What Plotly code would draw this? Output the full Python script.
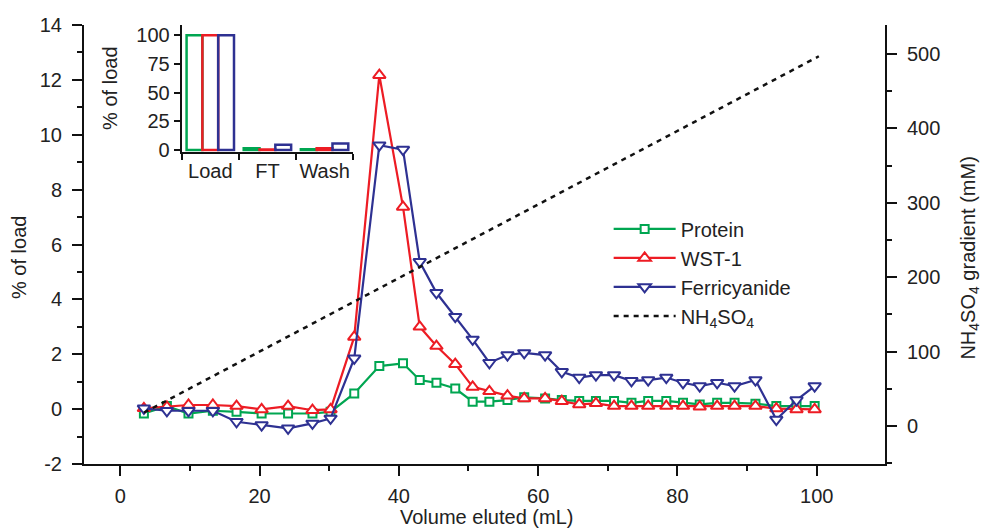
import plotly.graph_objects as go

# Fraction volumes (mL) and activity profiles (% of load)
volume = [3.4, 6.7, 9.8, 13.3, 16.7, 20.3, 24.1, 27.6, 30.2, 33.6, 37.2, 40.6,
          43.0, 45.4, 48.1, 50.6, 53.0, 55.6, 58.0, 61.0, 63.4, 65.9, 68.3, 70.9,
          73.4, 75.8, 78.4, 80.8, 83.2, 85.7, 88.2, 91.2, 94.2, 97.1, 99.7]
protein = [-0.16, 0.11, -0.16, -0.06, -0.10, -0.16, -0.16, -0.16, -0.10, 0.57, 1.57, 1.67,
           1.06, 0.96, 0.75, 0.27, 0.27, 0.33, 0.43, 0.39, 0.33, 0.30, 0.30, 0.30,
           0.23, 0.30, 0.30, 0.23, 0.17, 0.23, 0.23, 0.20, 0.11, 0.11, 0.11]
wst1 = [0.03, 0.08, 0.15, 0.15, 0.11, -0.01, 0.11, -0.04, -0.01, 2.63, 12.17, 7.37,
        3.00, 2.30, 1.64, 0.81, 0.65, 0.49, 0.39, 0.39, 0.29, 0.17, 0.21, 0.11,
        0.11, 0.11, 0.11, 0.11, 0.09, 0.11, 0.11, 0.11, 0.02, -0.01, -0.01]
ferricyanide = [0.03, -0.06, -0.06, -0.06, -0.46, -0.58, -0.70, -0.52, -0.34, 1.85, 9.62, 9.46,
                5.37, 4.24, 3.37, 2.54, 1.69, 1.97, 2.05, 1.97, 1.36, 1.15, 1.24, 1.24,
                1.03, 1.06, 1.15, 0.96, 0.84, 0.96, 0.84, 1.06, -0.38, 0.33, 0.84]

# Linear salt gradient (mM)
gradient_volume = [3.4, 100.3]
gradient_mm = [18, 497]

# Left axis tick labels (plain hyphen for the negative value)
left_ticks = [-2, 0, 2, 4, 6, 8, 10, 12, 14]
left_ticktext = ["-2", "0", "2", "4", "6", "8", "10", "12", "14"]

# Inset: load, flow-through and wash fractions
inset_cats = ["Load", "FT", "Wash"]
inset_protein = [100, 1.5, 0.5]
inset_wst1 = [100, 0.3, 1.5]
inset_ferri = [100, 4.5, 5.5]

GREEN = "#00a651"
RED = "#ed1c24"
BLUE = "#2e3192"
FONT = "Liberation Sans, Arial, sans-serif"
FS = 20

fig = go.Figure()

fig.add_trace(go.Scatter(
    x=gradient_volume, y=gradient_mm, yaxis="y2", mode="lines",
    name="NH<sub>4</sub>SO<sub>4</sub>", legendrank=4,
    line=dict(color="#111111", width=2.5, dash="5px,5px"),
))
for name, vals, col, sym, size, rank in [
    ("Protein", protein, GREEN, "square", 8, 1),
    ("WST-1", wst1, RED, "triangle-up", 11, 2),
    ("Ferricyanide", ferricyanide, BLUE, "triangle-down", 11, 3),
]:
    fig.add_trace(go.Scatter(
        x=volume, y=vals, mode="lines+markers", name=name, legendrank=rank,
        line=dict(color=col, width=2.2),
        marker=dict(symbol=sym, size=size, color="white",
                    line=dict(color=col, width=2)),
    ))

for name, vals, col in [("Protein", inset_protein, GREEN),
                        ("WST-1", inset_wst1, RED),
                        ("Ferricyanide", inset_ferri, BLUE)]:
    fig.add_trace(go.Bar(
        x=inset_cats, y=vals, xaxis="x3", yaxis="y3", showlegend=False,
        marker=dict(color="rgba(0,0,0,0)", line=dict(color=col, width=2.5)),
    ))

axis_common = dict(showline=True, linecolor="#111111", linewidth=2,
                   ticks="outside", tickcolor="#111111", tickwidth=2, ticklen=10,
                   showgrid=False, zeroline=False,
                   tickfont=dict(family=FONT, size=FS, color="#222222"))

fig.update_layout(
    width=983, height=531,
    margin=dict(l=84, r=98, t=25, b=67),
    paper_bgcolor="white", plot_bgcolor="white",
    font=dict(family=FONT, size=FS, color="#222222"),
    showlegend=True,
    legend=dict(x=0.655, y=0.58, xanchor="left", yanchor="top",
                bgcolor="rgba(0,0,0,0)", itemwidth=62, tracegroupgap=0,
                font=dict(family=FONT, size=FS, color="#222222")),
    xaxis=dict(range=[-5.2, 109.8], tickvals=[0, 20, 40, 60, 80, 100],
               minor=dict(tickvals=[10, 30, 50, 70, 90, 110], ticklen=5,
                          tickwidth=2, tickcolor="#111111", ticks="outside"),
               ticklabelstandoff=3, **axis_common),
    yaxis=dict(range=[-2, 14], tickvals=left_ticks, ticktext=left_ticktext,
               minor=dict(dtick=1, ticklen=5, tickwidth=2, tickcolor="#111111",
                          ticks="outside"),
               ticklabelstandoff=6, **axis_common),
    yaxis2=dict(overlaying="y", side="right", range=[-51, 539], dtick=100,
                minor=dict(dtick=50, ticklen=5, tickwidth=2, tickcolor="#111111",
                           ticks="outside"),
                ticklabelstandoff=6, **axis_common),
    xaxis3=dict(domain=[0.122, 0.336], anchor="y3", type="category",
                tickson="boundaries", tickangle=0, showline=True,
                linecolor="#111111", linewidth=2, ticks="outside", ticklen=6,
                tickwidth=2, tickcolor="#111111", showgrid=False, zeroline=False,
                tickfont=dict(family=FONT, size=FS, color="#222222")),
    yaxis3=dict(domain=[0.711, 1.0], anchor="x3", range=[-1.7, 108.9],
                tickvals=[0, 25, 50, 75, 100], showline=True, linecolor="#111111",
                linewidth=2, ticks="outside", ticklen=6, tickwidth=2,
                tickcolor="#111111", showgrid=False, zeroline=False,
                tickfont=dict(family=FONT, size=FS, color="#222222")),
    barmode="group", bargap=0.17, bargroupgap=0,
)

# Axis titles
title_font = dict(family=FONT, size=FS, color="#222222")
fig.add_annotation(text="Volume eluted (mL)", xref="paper", yref="paper",
                   x=0.502, y=-0.121, xanchor="center", yanchor="middle",
                   showarrow=False, font=title_font)
fig.add_annotation(text="% of load", xref="paper", yref="paper",
                   x=-0.082, y=0.47, xanchor="center", yanchor="middle",
                   textangle=-90, showarrow=False, font=title_font)
fig.add_annotation(text="NH<sub>4</sub>SO<sub>4</sub> gradient (mM)", xref="paper",
                   yref="paper", x=1.106, y=0.47, xanchor="center", yanchor="middle",
                   textangle=-90, showarrow=False, font=title_font)
fig.add_annotation(text="% of load", xref="paper", yref="paper",
                   x=0.0315, y=0.855, xanchor="center", yanchor="middle",
                   textangle=-90, showarrow=False, font=title_font)

fig.write_html("out.html")
